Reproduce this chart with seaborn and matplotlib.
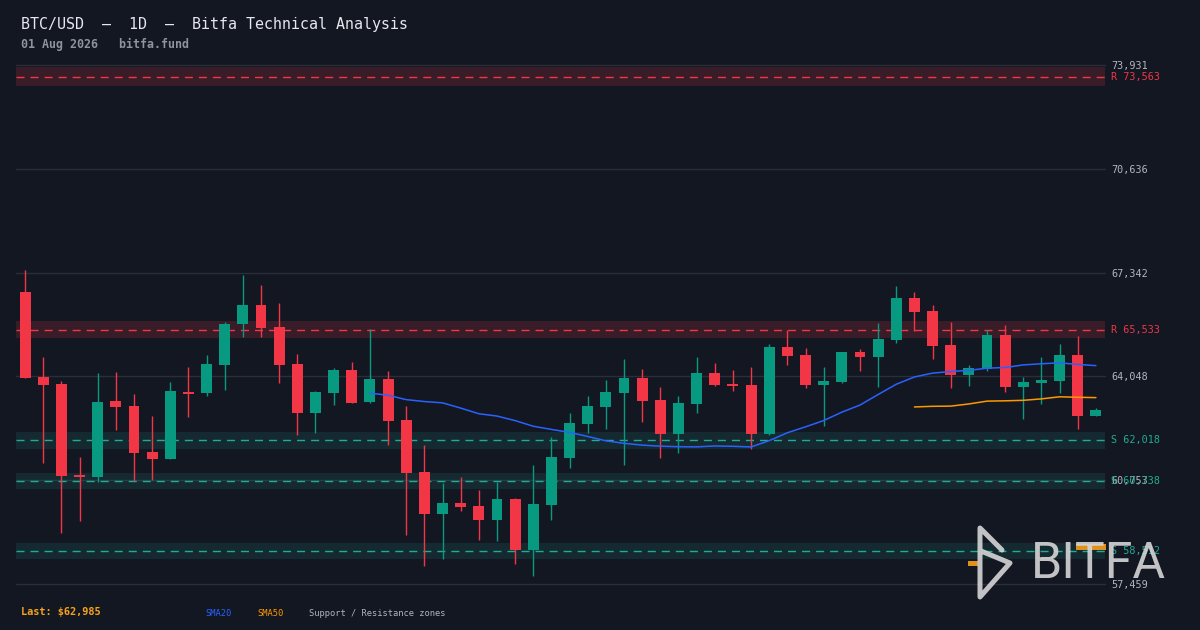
import numpy as np
import pandas as pd
import matplotlib
matplotlib.use('Agg')
import matplotlib.pyplot as plt
import seaborn as sns

# daily OHLC, 60 sessions
opens = [66726, 64029, 63807, 60918, 60864, 63267, 63108, 61648, 61436, 63553,
         63530, 64419, 65720, 66314, 65616, 64441, 62886, 63530, 64251, 63245,
         63965, 62664, 61014, 59690, 60030, 59935, 59500, 60157, 58548, 59976,
         61467, 62547, 63086, 63530, 63997, 63299, 62229, 63181, 64156, 63807,
         63775, 62229, 64981, 64727, 63784, 63870, 64822, 64673, 65203, 66536,
         66123, 65044, 64102, 64292, 65362, 63721, 63848, 63911, 64727, 62800]
highs = [67425, 64663, 63902, 61490, 64156, 64187, 63489, 62791, 63870, 64346,
         64727, 65774, 67266, 66949, 66377, 64759, 63584, 64314, 64505, 65543,
         64219, 63108, 61871, 60665, 60855, 60442, 60696, 60188, 61236, 62124,
         62886, 63426, 63934, 64600, 64283, 63711, 63426, 64663, 64473, 64251,
         64346, 65076, 65520, 64949, 64346, 64822, 64917, 65743, 66917, 66726,
         66314, 65774, 64410, 65530, 65679, 64029, 64663, 65076, 65330, 63045]
lows = [63990, 61309, 59087, 59468, 60706, 62356, 60738, 60769, 61436, 62769,
        63435, 63626, 65308, 65308, 63848, 62197, 62261, 63150, 63200, 63213,
        61871, 59024, 58040, 58262, 59785, 58865, 58833, 58103, 57722, 59500,
        61150, 62261, 62388, 61245, 62610, 61467, 61626, 62896, 63743, 63594,
        61753, 62197, 64419, 63689, 62483, 63848, 64229, 63721, 65117, 65489,
        64600, 63689, 63753, 64229, 63562, 62705, 63181, 63530, 62388, 62800]
closes = [64006, 63784, 60896, 60864, 63235, 63086, 61626, 61436, 63584, 63499,
          64441, 65711, 66314, 65593, 64419, 62886, 63553, 64251, 63213, 63965,
          62642, 60991, 59690, 60030, 59912, 59500, 60157, 58548, 59998, 61490,
          62569, 63108, 63553, 63997, 63277, 62229, 63204, 64156, 63784, 63753,
          62229, 64981, 64705, 63784, 63902, 64822, 64673, 65235, 66536, 66092,
          65022, 64102, 64314, 65362, 63721, 63870, 63934, 64727, 62800, 62985]

price_ticks = [73931, 70636, 67342, 64048, 60753, 57459]
levels = [73563, 65533, 62018, 60738, 58512]
level_kinds = ['R', 'R', 'S', 'S', 'S']

df = pd.DataFrame({'open': opens, 'high': highs, 'low': lows, 'close': closes})
df['i'] = np.arange(len(df))
df['sma20'] = df['close'].rolling(20).mean()
df['sma50'] = df['close'].rolling(50).mean()

BG = '#131722'
UP = '#089981'
DOWN = '#f23645'
SUP = '#22ab94'
GRID = '#2a2e39'
AXTXT = '#b2b5be'

sns.set_theme(style='dark', rc={'figure.facecolor': BG, 'axes.facecolor': BG})
plt.rcParams['font.family'] = ['DejaVu Sans Mono', 'DejaVu Sans']

fig = plt.figure(figsize=(12, 6.3), dpi=100)
ax = fig.add_axes([16 / 1200, 46 / 630, 1089 / 1200, 519 / 630])

# grid
for t in price_ticks:
    ax.axhline(t, color=GRID, lw=1, zorder=0, clip_on=False)

# support / resistance zones
for lvl, kind in zip(levels, level_kinds):
    c = DOWN if kind == 'R' else SUP
    a = 0.17 if kind == 'R' else 0.13
    ax.axhspan(lvl * (1 - 0.0042), lvl * (1 + 0.0042), color=c, alpha=a, lw=0, zorder=0.5)
    ax.axhline(lvl, color=c, lw=1, ls=(0, (5.8, 4.3)), zorder=0.6)
    ax.text(1.0055, lvl, f'{kind} {lvl:,}', transform=ax.get_yaxis_transform(),
            color=c, fontsize=7.3, va='center', ha='left')

# candles
up = df['close'] >= df['open']
colors = np.where(up, UP, DOWN)
body_lo = df[['open', 'close']].min(axis=1)
body_h = (df['close'] - df['open']).abs().clip(lower=25)
ax.vlines(df['i'], df['low'], df['high'], colors=colors, lw=1, zorder=2)
ax.bar(df['i'], body_h, bottom=body_lo, width=0.6, color=colors, lw=0, zorder=3)

# moving averages
sns.lineplot(data=df, x='i', y='sma20', color='#2962ff', lw=1.1, ax=ax, zorder=4)
sns.lineplot(data=df, x='i', y='sma50', color='#ff9800', lw=1.1, ax=ax, zorder=4)

ax.set_xlim(-0.5, len(df) - 0.5)
ax.set_ylim(price_ticks[-1], price_ticks[0])
ax.set_yticks(price_ticks)
ax.set_yticklabels([f'{t:,}' for t in price_ticks])
ax.yaxis.tick_right()
ax.tick_params(axis='y', length=0, pad=4.3, labelsize=7.3, labelcolor=AXTXT)
ax.set_xticks([])
ax.set_xlabel('')
ax.set_ylabel('')
ax.grid(False)
for s in ax.spines.values():
    s.set_visible(False)

# overlay in pixel coords for header, footer, logo
ov = fig.add_axes([0, 0, 1, 1], zorder=10)
ov.set_xlim(0, 1200)
ov.set_ylim(630, 0)
ov.axis('off')
ov.patch.set_alpha(0)

ov.text(21, 24, 'BTC/USD  \u2014  1D  \u2014  Bitfa Technical Analysis', color='#e6e8ee',
        fontsize=10.8, va='center', ha='left')
ov.text(21, 44, '01 Aug 2026   bitfa.fund', color='#8f939d', fontsize=8.4,
        fontweight='bold', va='center', ha='left')

ov.text(21, 612, f'Last: ${closes[-1]:,}', color='#f7a21b', fontsize=7.4,
        fontweight='bold', va='center', ha='left')
ov.text(205, 614, 'SMA20', color='#2962ff', fontsize=6.3, va='center', ha='left')
ov.text(257, 614, 'SMA50', color='#ff9800', fontsize=6.3, va='center', ha='left')
ov.text(309, 614, 'Support / Resistance zones', color=AXTXT, fontsize=6.3, va='center', ha='left')

# logo
logo_c = '#d6d6d8'
ov.plot([1002, 980, 980, 1010, 981], [550, 528, 597, 563, 551], color=logo_c, lw=3.6,
        alpha=0.9, solid_capstyle='round', solid_joinstyle='round')
ov.add_patch(plt.Rectangle((968, 561), 10, 5, color='#e0901c', lw=0))
ov.text(1031, 564, 'BITFA', color=logo_c, alpha=0.9, fontsize=36, family='Roboto',
        fontweight='normal', va='center', ha='left')
ov.add_patch(plt.Rectangle((1076, 544), 30, 6, color='#e0901c', lw=0))

fig.savefig('out.png', dpi=100, facecolor=BG)
